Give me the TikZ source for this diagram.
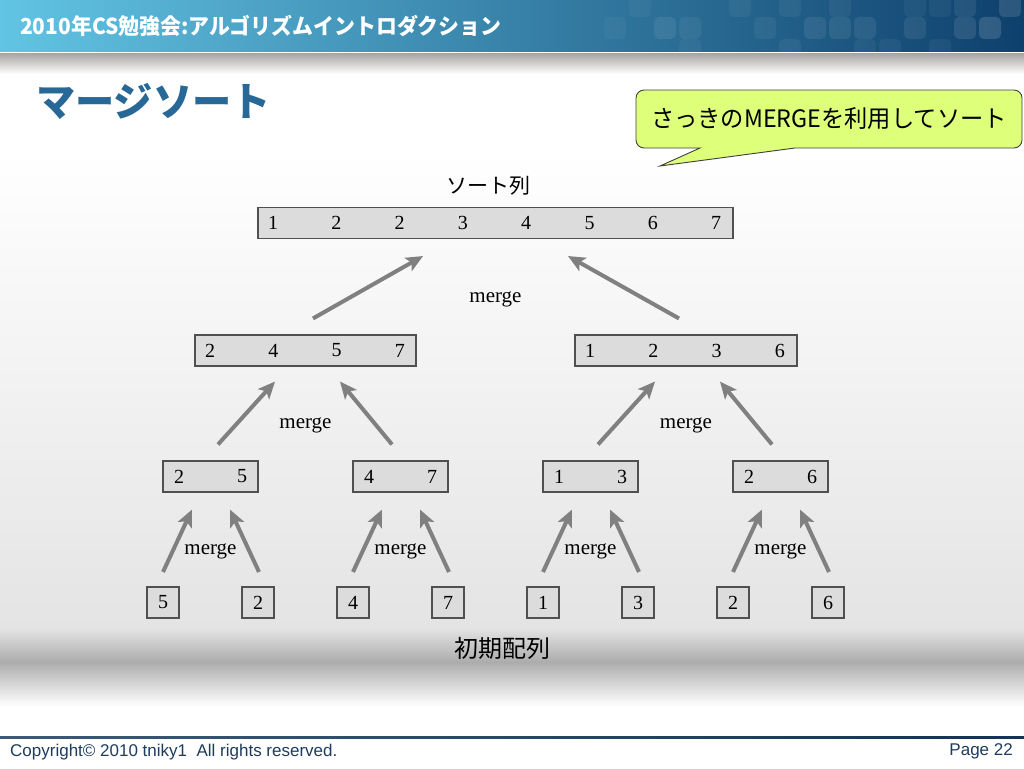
\documentclass[tikz,border=0pt]{standalone}
\usepackage{fontspec}
\setmainfont{Liberation Serif}
\newfontfamily\jpfont{Noto Sans CJK JP}
\newfontfamily\latinsans{Liberation Sans}
\usetikzlibrary{arrows.meta}

\definecolor{headleft}{RGB}{98,196,228}
\definecolor{headmid}{RGB}{45,122,168}
\definecolor{headright}{RGB}{14,64,108}
\definecolor{titleblue}{RGB}{40,104,150}
\definecolor{notefill}{RGB}{222,255,122}
\definecolor{boxfill}{RGB}{220,220,220}
\definecolor{boxline}{RGB}{80,80,80}
\definecolor{arrowgray}{RGB}{128,128,128}
\definecolor{footblue}{RGB}{30,60,95}

\begin{document}
\begin{tikzpicture}[x=1pt, y=1pt,
	box/.style={draw=boxline, fill=boxfill, line width=1.1pt, minimum height=31pt, inner sep=0pt},
	num/.style={font=\fontsize{20}{24}\selectfont, inner sep=0pt},
	lbl/.style={font=\fontsize{21}{24}\selectfont, inner sep=0pt},
	mergearrow/.style={draw=arrowgray, line width=4pt, -{Stealth[length=17pt, width=15pt, inset=4pt]}}]
	
	\useasboundingbox (0,0) rectangle (1024,-768);
	\fill[white] (0,0) rectangle (1024,-768);
	
	% header and background
	\shade[left color=headleft, middle color=headmid, right color=headright] (0,0) rectangle (1024,-52);
	\foreach \cx/\cy/\op in {615/-28/0.04, 640/-6/0.04, 665/-28/0.08, 690/-28/0.06, 690/-50/0.04, 740/-6/0.05, 765/-28/0.05, 790/-6/0.05, 790/-50/0.05, 815/-28/0.08, 840/-6/0.05, 840/-28/0.08, 865/-28/0.08, 865/-50/0.05, 890/-50/0.05, 915/-6/0.05, 915/-28/0.08, 940/-6/0.05, 940/-50/0.05, 965/-6/0.08, 965/-28/0.1, 990/-28/0.14, 1010/-6/0.12}
		\fill[white, fill opacity=\op, rounded corners=5pt] (\cx-11,\cy+11) rectangle (\cx+11,\cy-11);
	\node[anchor=west, text=white, font=\jpfont\bfseries\fontsize{22}{24}\selectfont, inner sep=0pt] (head) at (20,-26) {\scalebox{0.95}[1]{2010年CS勉強会:アルゴリズムイントロダクション}};
	\draw[white, line width=1pt] (0,-53) -- (1024,-53);
	\shade[top color={rgb,255:red,170;green,168;blue,165}, bottom color=white] (0,-54) rectangle (1024,-74);
	\shade[top color=white, bottom color={rgb,255:red,228;green,228;blue,228}] (0,-150) rectangle (1024,-628);
	\shade[top color={rgb,255:red,228;green,228;blue,228}, bottom color={rgb,255:red,172;green,172;blue,172}] (0,-628) rectangle (1024,-662);
	\shade[top color={rgb,255:red,172;green,172;blue,172}, bottom color=white] (0,-662) rectangle (1024,-706);
	
	\node[anchor=west, text=titleblue, font=\jpfont\bfseries\fontsize{40}{44}\selectfont, inner sep=0pt] (title) at (36,-101) {\scalebox{0.98}[1]{マージソート}};
	
	% callout
	\draw[fill=notefill, draw=black!75, line width=0.9pt] (700,-148) -- (660,-166) -- (795,-148) [rounded corners=8pt] -- (1022,-148) -- (1022,-90) -- (636,-90) -- (636,-148) [sharp corners] -- cycle;
	\node[font=\jpfont\fontsize{24}{26}\selectfont, inner sep=0pt] (note) at (829,-119) {\scalebox{0.97}[1]{さっきのMERGEを利用してソート}};
	
	% sorted result
	\node[font=\jpfont\fontsize{21}{24}\selectfont, inner sep=0pt] (sortlbl) at (488,-186) {ソート列};
	\node[box, minimum width=475pt] (sorted) at (495.5,-223) {};
	\foreach \v [count=\i from 0] in {1,2,2,3,4,5,6,7}
		\node[num] (s\i) at (273+63.3*\i,-223) {\v};
	
	% second level
	\node[box, minimum width=221pt] (lft) at (305.5,-350.5) {};
	\node[box, minimum width=222pt] (rgt) at (686,-350.5) {};
	\foreach \v [count=\i from 0] in {2,4,5,7}
		\node[num] (l\i) at (210+63.3*\i,-350.5) {\v};
	\foreach \v [count=\i from 0] in {1,2,3,6}
		\node[num] (r\i) at (590+63.3*\i,-350.5) {\v};
	
	% third level
	\foreach \a/\b [count=\k] in {2/5, 4/7, 1/3, 2/6} {
		\node[box, minimum width=95pt] (p\k) at (20.5+190*\k,-476.5) {};
		\node[num] (pa\k) at ([xshift=-31.5pt]p\k.center) {\a};
		\node[num] (pb\k) at ([xshift=31.5pt]p\k.center) {\b};
	}
	
	% initial array
	\foreach \v [count=\i] in {5,2,4,7,1,3,2,6}
		\node[box, minimum width=32pt, font=\fontsize{20}{24}\selectfont] (c\i) at (68+95*\i,-602.5) {\v};
	\node[font=\jpfont\fontsize{24}{26}\selectfont, inner sep=0pt] (initlbl) at (502,-648) {初期配列};
	
	% arrows
	\foreach \k in {1,...,4} {
		\pgfmathtruncatemacro\ca{2*\k-1}
		\pgfmathtruncatemacro\cb{2*\k}
		\draw[mergearrow] ([yshift=14.5pt]c\ca.north) -- ([xshift=-18.5pt, yshift=-17pt]p\k.south);
		\draw[mergearrow] ([xshift=1pt, yshift=14.5pt]c\cb.north) -- ([xshift=19.5pt, yshift=-17pt]p\k.south);
		\node[lbl] (m\k) at ([yshift=-75pt]p\k.center) {merge};
	}
	\draw[mergearrow] ([xshift=7.5pt, yshift=16pt]p1.north) -- ([xshift=-30.5pt, yshift=-15pt]lft.south);
	\draw[mergearrow] ([xshift=-8.5pt, yshift=16pt]p2.north) -- ([xshift=34.5pt, yshift=-15pt]lft.south);
	\draw[mergearrow] ([xshift=7.5pt, yshift=16pt]p3.north) -- ([xshift=-31pt, yshift=-15pt]rgt.south);
	\draw[mergearrow] ([xshift=-8.5pt, yshift=16pt]p4.north) -- ([xshift=34pt, yshift=-15pt]rgt.south);
	\node[lbl] (ml) at ([yshift=-75pt]lft.center) {merge};
	\node[lbl] (mr) at ([yshift=-75pt]rgt.center) {merge};
	\draw[mergearrow] ([xshift=7.5pt, yshift=16pt]lft.north) -- ([xshift=-72.5pt, yshift=-17pt]sorted.south);
	\draw[mergearrow] ([xshift=-7pt, yshift=16pt]rgt.north) -- ([xshift=72.5pt, yshift=-17pt]sorted.south);
	\node[lbl] (mtop) at ([yshift=-76.5pt]sorted.center) {merge};
	
	% footer
	\shade[left color={rgb,255:red,60;green,90;blue,120}, right color={rgb,255:red,20;green,50;blue,85}] (0,-736) rectangle (1024,-738.5);
	\node[anchor=west, text=footblue, font=\latinsans\fontsize{17}{19}\selectfont, inner sep=0pt] (copy) at (10,-752) {Copyright© 2010 tniky1\ \ All rights reserved.};
	\node[anchor=east, text=footblue, font=\latinsans\fontsize{17}{19}\selectfont, inner sep=0pt] (page) at (1013,-751) {Page 22};
\end{tikzpicture}
\end{document}
